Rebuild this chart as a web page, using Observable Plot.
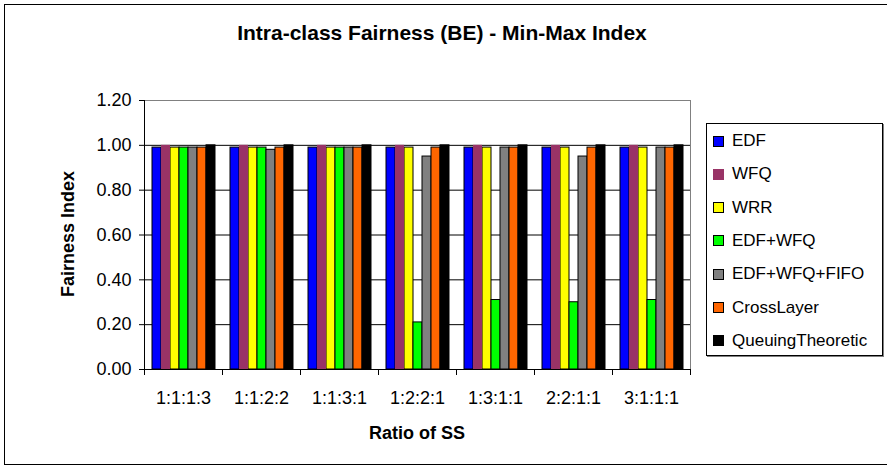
<!DOCTYPE html>
<html><head><meta charset="utf-8">
<script src="https://cdn.jsdelivr.net/npm/d3@7"></script>
<script src="https://cdn.jsdelivr.net/npm/@observablehq/plot@0.6"></script>
<style>
body{margin:0;background:#fff;}
#chart{position:relative;width:887px;height:469px;font-family:"Liberation Sans",Arial,sans-serif;color:#000;overflow:hidden;}
#chart svg{position:absolute;left:0;top:0;}
.outer{position:absolute;left:4px;top:4px;width:890px;height:461px;border:1px solid #000;box-sizing:border-box;}
.title{position:absolute;left:0;width:884px;top:20px;text-align:center;font-weight:bold;font-size:21px;line-height:26px;}
.ytitle{position:absolute;left:68px;top:234px;transform:translate(-50%,-50%) rotate(-90deg);font-weight:bold;font-size:18px;white-space:nowrap;}
.xtitle{position:absolute;left:417px;top:433px;transform:translate(-50%,-50%);font-weight:bold;font-size:18px;white-space:nowrap;}
.legend{position:absolute;left:706px;top:123px;width:177px;height:233px;border:1px solid #000;box-sizing:border-box;background:#fff;box-shadow:1px 1px 0 #808080;}
.row{position:absolute;left:6px;height:20px;display:flex;align-items:center;font-size:17px;white-space:nowrap;}
.sw{width:11px;height:11px;box-sizing:border-box;border:1px solid #000;margin-right:8px;}
</style></head><body><div id="chart"></div>
<script>
const categories = ["1:1:1:3","1:1:2:2","1:1:3:1","1:2:2:1","1:3:1:1","2:2:1:1","3:1:1:1"];
const seriesNames = ["EDF","WFQ","WRR","EDF+WFQ","EDF+WFQ+FIFO","CrossLayer","QueuingTheoretic"];
const seriesColors = ["#0000ff","#993366","#ffff00","#00ff00","#808080","#ff6600","#000000"];
const valEDF      = [0.99,0.99,0.99,0.99,0.99,0.99,0.99];
const valWFQ      = [1.00,1.00,1.00,1.00,1.00,1.00,1.00];
const valWRR      = [0.99,0.99,0.99,0.99,0.99,0.99,0.99];
const valEDFWFQ   = [0.99,0.99,0.99,0.21,0.31,0.30,0.31];
const valFIFO     = [0.99,0.98,0.99,0.95,0.99,0.95,0.99];
const valCross    = [0.99,0.99,0.99,0.99,0.99,0.99,0.99];
const valQueuing  = [1.00,1.00,1.00,1.00,1.00,1.00,1.00];
const yTicks = [0,0.2,0.4,0.6,0.8,1.0,1.2];
const titleText = "Intra-class Fairness (BE) - Min-Max Index";
const yLabel = "Fairness Index";
const xLabel = "Ratio of SS";

const seriesValues = [valEDF,valWFQ,valWRR,valEDFWFQ,valFIFO,valCross,valQueuing];
const table = categories.flatMap((c,i)=>seriesNames.map((s,j)=>({cat:c, series:s, value:seriesValues[j][i]})));

const W=887,H=469,mL=143,mR=196,mT=100,mB=100;
const plot = Plot.plot({
  width:W,height:H,marginLeft:mL,marginRight:mR,marginTop:mT,marginBottom:mB,
  style:{fontFamily:"Liberation Sans, Arial, sans-serif",fontSize:"17px",color:"#000",background:"transparent",overflow:"visible"},
  fx:{domain:categories,padding:0,label:null,axis:null},
  x:{domain:seriesNames,paddingInner:0,paddingOuter:0.78,axis:null},
  y:{domain:[0,1.2],label:null,axis:null},
  color:{domain:seriesNames,range:seriesColors},
  marks:[
    Plot.ruleY(yTicks.filter(d=>d>0&&d<1.2),{stroke:"#000",strokeWidth:1}),
    Plot.ruleY([1.2],{stroke:"#808080"}),
    Plot.frame({anchor:"right",facetAnchor:"right",stroke:"#808080"}),
    Plot.barY(table,{filter:d=>d.series!=="WFQ",fx:"cat",x:"series",y:"value",fill:"series",stroke:"#000",strokeWidth:1}),
    Plot.barY(table,{filter:d=>d.series==="WFQ",fx:"cat",x:"series",y:"value",fill:"series"}),
    Plot.ruleY([0],{stroke:"#000"}),
    Plot.frame({anchor:"left",facetAnchor:"left",stroke:"#000"}),
    Plot.frame({anchor:"left",insetTop:H-mT-mB,insetBottom:-5,stroke:"#000"}),
    Plot.frame({anchor:"right",facetAnchor:"right",insetTop:H-mT-mB,insetBottom:-5,stroke:"#000"}),
    Plot.axisY({ticks:yTicks,tickFormat:d3.format(".2f"),tickSize:5,tickPadding:8,label:null,fontSize:18}),
    Plot.axisFx({anchor:"bottom",tickSize:0,tickPadding:22,label:null,fontSize:18})
  ]
});

const chart = document.getElementById("chart");
const outer = document.createElement("div"); outer.className="outer"; chart.appendChild(outer);
chart.appendChild(plot);
const t = document.createElement("div"); t.className="title"; t.textContent=titleText; chart.appendChild(t);
const yt = document.createElement("div"); yt.className="ytitle"; yt.textContent=yLabel; chart.appendChild(yt);
const xt = document.createElement("div"); xt.className="xtitle"; xt.textContent=xLabel; chart.appendChild(xt);
const lg = document.createElement("div"); lg.className="legend"; chart.appendChild(lg);
seriesNames.forEach((s,i)=>{
  const r=document.createElement("div"); r.className="row"; r.style.top=(7+i*33.3)+"px";
  const sw=document.createElement("div"); sw.className="sw"; sw.style.background=seriesColors[i];
  if(s==="WFQ") sw.style.borderColor=seriesColors[i];
  const tx=document.createElement("span"); tx.textContent=s;
  r.appendChild(sw); r.appendChild(tx); lg.appendChild(r);
});
</script></body></html>
